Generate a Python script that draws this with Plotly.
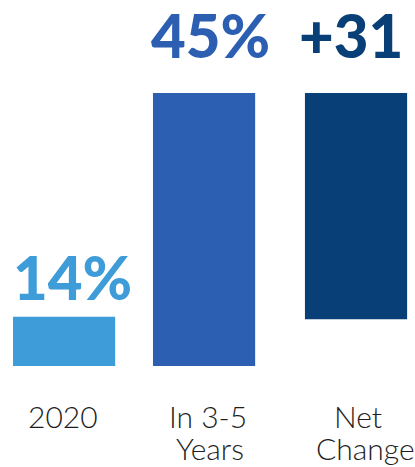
import plotly.graph_objects as go

categories = ["2020", "In 3-5<br>Years", "Net<br>Change"]
value_labels = ["14%", "45%", "+31"]
bar_lengths = [8.1, 45, 37.3]   # drawn bar lengths
bar_bases = [0, 0, 7.7]
colors = ["#3e9cd8", "#2c5fb2", "#073f76"]

bar_offsets = [-0.336, -0.377, -0.336]
label_xshift = [10, 2, -3]
label_yshift = [2, 20, 20]
cat_xshift = [[1], [0, 2], [4, 12]]

fig = go.Figure()
fig.add_trace(go.Bar(
    x=categories, y=bar_lengths, base=bar_bases,
    marker=dict(color=colors, line=dict(width=0)),
    width=0.70, offset=bar_offsets, hoverinfo="skip",
))

for i, (c, lab) in enumerate(zip(categories, value_labels)):
    fig.add_annotation(
        x=i, y=bar_bases[i] + bar_lengths[i], xref="x", yref="y",
        text=lab, showarrow=False, yanchor="bottom", xanchor="center",
        xshift=label_xshift[i], yshift=label_yshift[i],
        font=dict(family="Lato", size=60, weight=900, color=colors[i]),
    )
    for j, line in enumerate(c.split("<br>")):
        fig.add_annotation(
            x=i, y=0, xref="x", yref="paper", text=line, showarrow=False,
            yanchor="top", xanchor="center", xshift=cat_xshift[i][j],
            yshift=-30 - 32 * j,
            font=dict(family="Lato", size=30, weight=300, color="#1e1e1e"),
        )

fig.update_layout(
    width=415, height=467,
    margin=dict(l=0, r=0, t=0, b=101),
    paper_bgcolor="white", plot_bgcolor="white",
    showlegend=False,
    xaxis=dict(type="category", range=[-0.425, 2.418], showticklabels=False,
               showgrid=False, zeroline=False, showline=False, ticks=""),
    yaxis=dict(range=[0, 60.33], visible=False),
)

fig.write_html("out.html", config={"displayModeBar": False},
               post_script="document.body.style.margin='0';document.body.style.overflow='hidden';")
